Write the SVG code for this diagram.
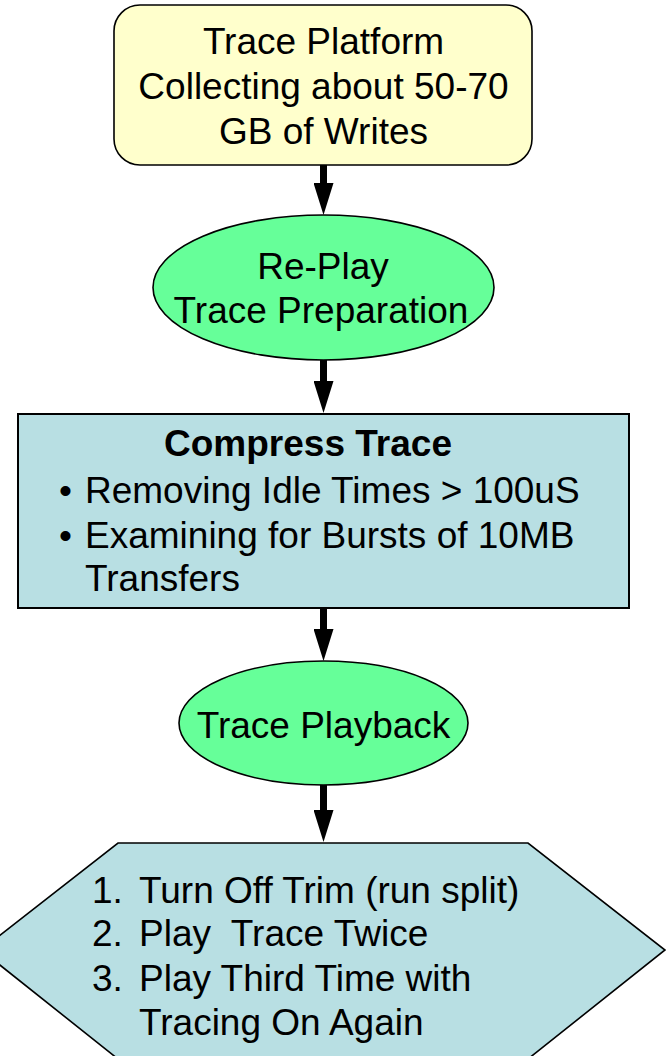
<svg xmlns="http://www.w3.org/2000/svg" width="669" height="1056" viewBox="0 0 669 1056">
  <style>
    .t { font-family: "Liberation Sans", Arial, sans-serif; font-size: 37px; fill: #000; }
    .c { text-anchor: middle; }
    .b { font-weight: bold; }
    .shaft { stroke: #000; stroke-width: 7; fill: none; }
  </style>
  <defs>
    <marker id="head" viewBox="0 0 32 20" refX="0" refY="10" markerUnits="userSpaceOnUse" markerWidth="32" markerHeight="20" orient="auto">
      <path d="M0,0 L32,10 L0,20 z" fill="#000"/>
    </marker>
  </defs>

  <!-- connectors -->
  <g id="connectors">
    <line class="shaft" x1="323.5" y1="165" x2="323.5" y2="183" marker-end="url(#head)"/>
    <line class="shaft" x1="323.5" y1="360" x2="323.5" y2="381" marker-end="url(#head)"/>
    <line class="shaft" x1="323.5" y1="608" x2="323.5" y2="629" marker-end="url(#head)"/>
    <line class="shaft" x1="323.5" y1="785" x2="323.5" y2="810" marker-end="url(#head)"/>
  </g>

  <!-- trace platform -->
  <g id="platform">
    <rect x="114" y="5" width="418" height="160" rx="26" ry="26" fill="#FFFFCC" stroke="#000" stroke-width="1.6"/>
    <text class="t c" x="323.5" y="54">Trace Platform</text>
    <text class="t c" x="323.5" y="99">Collecting about 50-70</text>
    <text class="t c" x="323.5" y="144">GB of Writes</text>
  </g>

  <!-- replay preparation -->
  <g id="preparation">
    <ellipse cx="323.5" cy="287.5" rx="170.5" ry="72.5" fill="#66FF99" stroke="#000" stroke-width="1.6"/>
    <text class="t c" x="323" y="279">Re-Play</text>
    <text class="t c" x="321" y="323">Trace Preparation</text>
  </g>

  <!-- compress trace -->
  <g id="compress">
    <rect x="18" y="414" width="611" height="194" fill="#B8DFE3" stroke="#000" stroke-width="2"/>
    <text class="t c b" x="308" y="456">Compress Trace</text>
    <text class="t" x="59" y="503">•</text>
    <text class="t" x="85" y="503">Removing Idle Times &gt; 100uS</text>
    <text class="t" x="59" y="548">•</text>
    <text class="t" x="85" y="548">Examining for Bursts of 10MB</text>
    <text class="t" x="85" y="591">Transfers</text>
  </g>

  <!-- playback -->
  <g id="playback">
    <ellipse cx="323.5" cy="723" rx="144.5" ry="62" fill="#66FF99" stroke="#000" stroke-width="1.6"/>
    <text class="t c" x="323.5" y="738">Trace Playback</text>
  </g>

  <!-- playback steps -->
  <g id="steps">
    <polygon points="118,843 528,843 665,950 528,1059 118,1059 -19,950" fill="#B8DFE3" stroke="#000" stroke-width="1.6"/>
    <text class="t" x="92" y="903">1.</text>
    <text class="t" x="139" y="903">Turn Off Trim (run split)</text>
    <text class="t" x="92" y="946">2.</text>
    <text class="t" x="139" y="946" xml:space="preserve">Play  Trace Twice</text>
    <text class="t" x="92" y="991">3.</text>
    <text class="t" x="139" y="991">Play Third Time with</text>
    <text class="t" x="139" y="1035">Tracing On Again</text>
  </g>
</svg>
